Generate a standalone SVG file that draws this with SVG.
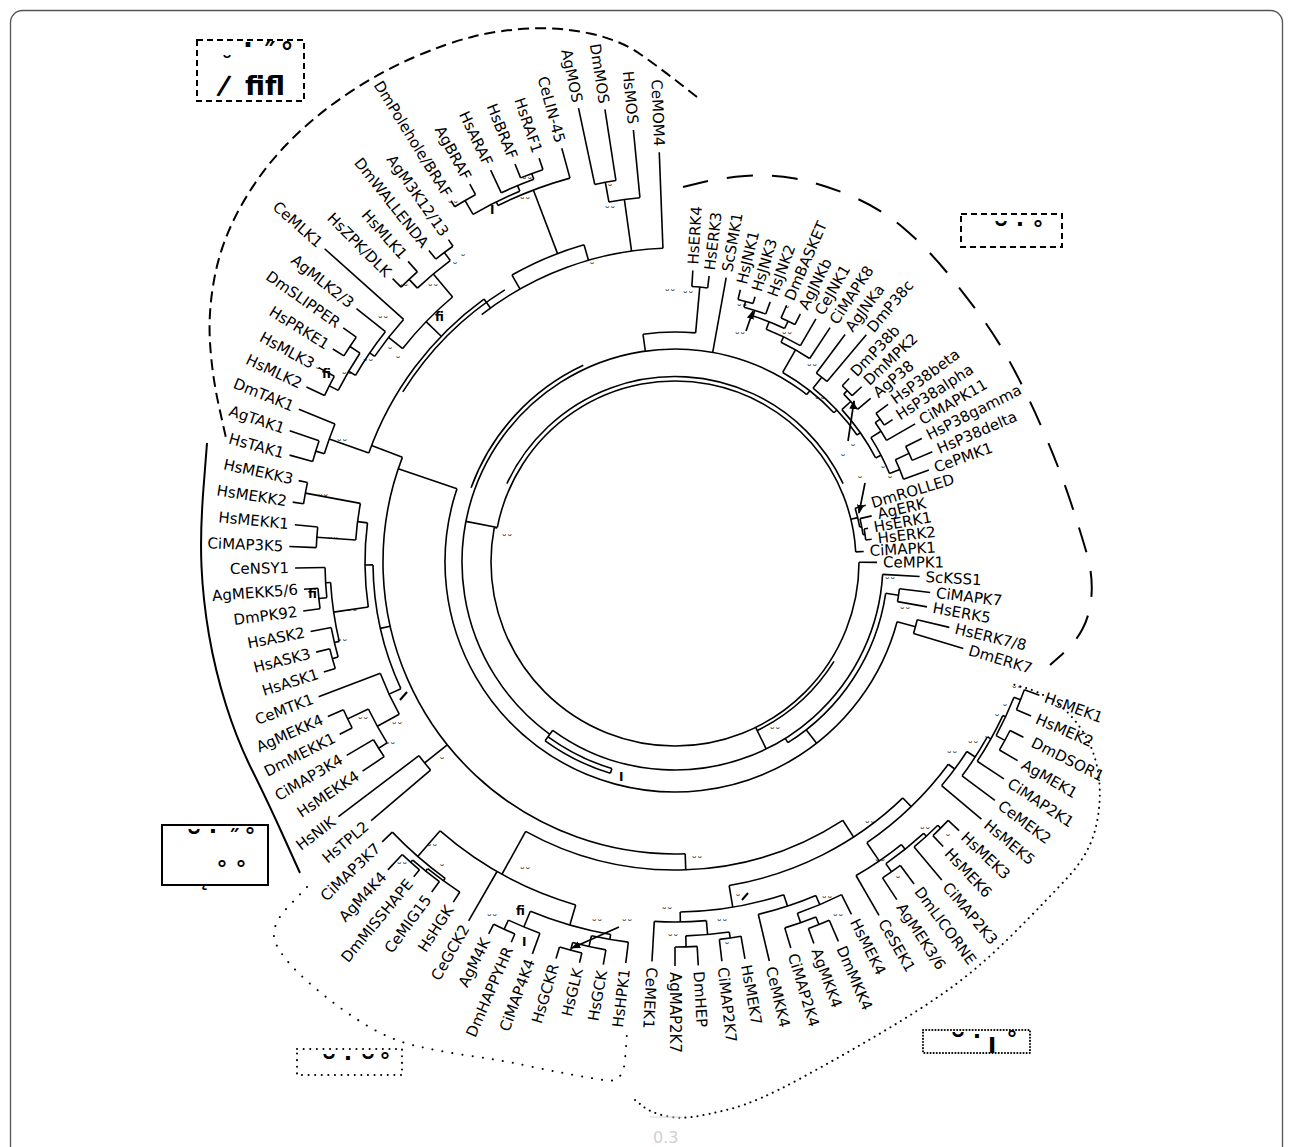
<svg xmlns="http://www.w3.org/2000/svg" width="1293" height="1147" viewBox="0 0 1293 1147">
<defs>
<marker id="ah" viewBox="0 0 10 10" refX="9" refY="5" markerUnits="userSpaceOnUse" markerWidth="9" markerHeight="9" orient="auto"><path d="M0,1L10,5L0,9z" fill="#000"/></marker>
</defs>
<style>
.c line,.c circle{fill:none;stroke:#000;stroke-width:1.6}
.t text{font-family:"DejaVu Sans",sans-serif;font-size:15px;dominant-baseline:central;fill:#000}
.t .e{text-anchor:end}
.g{fill:none;stroke:#000;stroke-width:2}
.bx{font-family:"DejaVu Sans",sans-serif;font-weight:bold;fill:#000}
.gl{font-family:"DejaVu Sans",sans-serif;font-weight:bold;font-size:22px;text-anchor:middle;fill:#000}
.gb{font-size:26px}
.br{font-size:34px}
.m{font-family:"DejaVu Sans",sans-serif;font-weight:bold;font-size:12px;fill:#000}
.bs text{font-family:"DejaVu Sans",sans-serif;font-size:11px;text-anchor:middle;fill:#000}
</style>
<rect x="10.5" y="10.5" width="1272" height="1160" rx="12" fill="#fff" stroke="#555" stroke-width="1.3"/>

<g id="outlines">
<path class="g" stroke-dasharray="11 6" d="M697,97 L678.5,82.5 Q660,68 640,54 Q620,40 590,33.5 Q560,27 530,28.5 Q500,30 473.5,36.5 Q447,43 413.5,57.5 Q380,72 346.5,94.5 Q313,117 286.5,144.5 Q260,172 241,206 Q222,240 215,275 Q208,310 210,342.5 Q212,375 219,406.5 L226,438"/>
<path class="g" d="M207,443 L203.5,488 Q200,533 201.5,566.5 Q203,600 209,635 Q215,670 226,705 Q237,740 252,770 Q267,800 283.5,836.5 L300,873"/>
<path class="g" stroke-dasharray="0.1 10" stroke-linecap="round" stroke-width="2.4" d="M307,887 L287.5,907.5 Q268,928 276.5,945 Q285,962 311,984.5 Q337,1007 363.5,1023.5 Q390,1040 416.5,1046 Q443,1052 471.5,1056 Q500,1060 523.5,1065 Q547,1070 568.5,1074 Q590,1078 606.5,1080.5 Q623,1083 625,1060 L627,1033"/>
<path class="g" stroke-dasharray="0.1 6" stroke-linecap="round" stroke-width="2" d="M635,1100 L642.5,1106 Q650,1112 663.5,1115.5 Q677,1119 692,1117 Q707,1115 732,1108.5 Q757,1102 798.5,1079.5 Q840,1057 880,1033.5 Q920,1010 950,988.5 Q980,967 1013.5,933.5 Q1047,900 1068.5,876.5 Q1090,853 1096,826.5 Q1102,800 1098.5,775 Q1095,750 1082.5,731 Q1070,712 1055,702 Q1040,692 1026,688 L1012,684"/>
<path class="g" stroke-dasharray="26 19" d="M683,187 L701.5,182.5 Q720,178 745,176 Q770,174 795,178.5 Q820,183 850,195.5 Q880,208 903.5,228 Q927,248 947,272.5 Q967,297 983.5,320 Q1000,343 1015,371.5 Q1030,400 1045,435 Q1060,470 1070,500 Q1080,530 1086.5,552.5 Q1093,575 1091.5,595 Q1090,615 1082.5,629 Q1075,643 1062.5,654 L1050,665"/>
</g>

<g id="legend-boxes">
<g id="box-map3k"><rect x="197" y="40" width="107" height="61" class="g" stroke-dasharray="6 4"/>
<text class="gl" x="227" y="72" font-size="44">˘</text><text class="gl gb" x="248" y="54">·</text><text class="gl gb" x="269" y="63">˝</text><text class="gl gb" x="287" y="61">°</text>
<text class="bx" x="219" y="95" font-size="27" transform="rotate(14 226 86)">/</text><text class="bx" x="245" y="95" font-size="27">ﬁﬂ</text></g>
<g id="box-mapk"><rect x="961" y="214" width="101" height="33" class="g" stroke-dasharray="6 4"/>
<text class="gl br" x="1001" y="248">˘</text><text class="gl" x="1020" y="231">·</text><text class="gl" x="1038" y="236">°</text></g>
<g id="box-left"><rect x="162" y="825" width="106" height="60" class="g"/>
<text class="gl br" x="194" y="856">˘</text><text class="gl" x="213" y="838">·</text><text class="gl" x="234" y="845">˝</text><text class="gl" x="250" y="843">°</text>
<text class="gl" x="222" y="876">°</text><text class="gl" x="241" y="876">°</text>
<text class="gl" x="204" y="886">˛</text></g>
<g id="box-map4k"><rect x="297" y="1049" width="105" height="26" class="g" stroke-dasharray="0.1 6.5" stroke-linecap="round" stroke-width="2.4"/>
<text class="gl br" x="329" y="1081">˘</text><text class="gl" x="348" y="1065">·</text><text class="gl br" x="368" y="1081">˘</text><text class="gl" x="385" y="1068">°</text></g>
<g id="box-map2k"><rect x="923" y="1030" width="107" height="23" class="g" stroke-dasharray="0.1 3" stroke-linecap="round" stroke-width="2"/>
<text class="gl br" x="958" y="1059">˘</text><text class="gl" x="977" y="1043">·</text><text class="gl" x="992" y="1053" font-size="18">I</text><text class="gl" x="1012" y="1046">°</text></g>
</g>

<g id="connectors" class="c" transform="translate(675 562)">
<!-- MAPK -->
<line x1="276" x2="292" transform="rotate(-86.5)"/>
<line x1="276" x2="288" transform="rotate(-83.2)"/>
<circle r="276" pathLength="360" stroke-dasharray="3.3 360" transform="rotate(-86.5)"/>
<line x1="230" x2="276" transform="rotate(-84.85)"/>
<circle r="230" pathLength="360" stroke-dasharray="13.15 360" transform="rotate(-98)"/>
<line x1="213" x2="230" transform="rotate(-98)"/>
<line x1="213" x2="289" transform="rotate(-79.8)"/>
<line x1="270" x2="280" transform="rotate(-76.5)"/>
<line x1="270" x2="277" transform="rotate(-73.2)"/>
<circle r="270" pathLength="360" stroke-dasharray="3.3 360" transform="rotate(-76.5)"/>
<line x1="264" x2="270" transform="rotate(-74.85)"/>
<line x1="264" x2="277" transform="rotate(-69.9)"/>
<circle r="264" pathLength="360" stroke-dasharray="4.95 360" transform="rotate(-74.85)"/>
<line x1="258" x2="264" transform="rotate(-72.4)"/>
<line x1="266" x2="280" transform="rotate(-66.5)"/>
<line x1="266" x2="278" transform="rotate(-63.2)"/>
<circle r="266" pathLength="360" stroke-dasharray="3.3 360" transform="rotate(-66.5)"/>
<line x1="258" x2="266" transform="rotate(-64.85)"/>
<circle r="258" pathLength="360" stroke-dasharray="7.55 360" transform="rotate(-72.4)"/>
<line x1="250" x2="258" transform="rotate(-68.6)"/>
<line x1="250" x2="281" transform="rotate(-59.9)"/>
<circle r="250" pathLength="360" stroke-dasharray="8.7 360" transform="rotate(-68.6)"/>
<line x1="244" x2="250" transform="rotate(-64.25)"/>
<line x1="244" x2="281" transform="rotate(-56.5)"/>
<circle r="244" pathLength="360" stroke-dasharray="7.75 360" transform="rotate(-64.25)"/>
<line x1="218" x2="244" transform="rotate(-60.4)"/>
<line x1="236" x2="284" transform="rotate(-53.2)"/>
<line x1="236" x2="297" transform="rotate(-49.9)"/>
<circle r="236" pathLength="360" stroke-dasharray="3.3 360" transform="rotate(-53.2)"/>
<line x1="222" x2="236" transform="rotate(-51.55)"/>
<line x1="243" x2="253" transform="rotate(-46.5)"/>
<line x1="243" x2="256" transform="rotate(-43.2)"/>
<circle r="243" pathLength="360" stroke-dasharray="3.3 360" transform="rotate(-46.5)"/>
<line x1="238" x2="243" transform="rotate(-44.85)"/>
<line x1="238" x2="255" transform="rotate(-39.9)"/>
<circle r="238" pathLength="360" stroke-dasharray="4.95 360" transform="rotate(-44.85)"/>
<line x1="226" x2="238" transform="rotate(-42.4)"/>
<line x1="250" x2="265" transform="rotate(-36.5)"/>
<line x1="250" x2="260" transform="rotate(-33.2)"/>
<circle r="250" pathLength="360" stroke-dasharray="3.3 360" transform="rotate(-36.5)"/>
<line x1="244" x2="250" transform="rotate(-34.85)"/>
<line x1="244" x2="277" transform="rotate(-29.9)"/>
<circle r="244" pathLength="360" stroke-dasharray="4.95 360" transform="rotate(-34.85)"/>
<line x1="232" x2="244" transform="rotate(-32.4)"/>
<line x1="258" x2="276" transform="rotate(-26.6)"/>
<line x1="258" x2="280" transform="rotate(-23.2)"/>
<circle r="258" pathLength="360" stroke-dasharray="3.4 360" transform="rotate(-26.6)"/>
<line x1="243" x2="258" transform="rotate(-24.9)"/>
<line x1="243" x2="270" transform="rotate(-19.9)"/>
<circle r="243" pathLength="360" stroke-dasharray="5 360" transform="rotate(-24.9)"/>
<line x1="232" x2="243" transform="rotate(-22.4)"/>
<circle r="232" pathLength="360" stroke-dasharray="10 360" transform="rotate(-32.4)"/>
<line x1="226" x2="232" transform="rotate(-27.4)"/>
<circle r="226" pathLength="360" stroke-dasharray="15 360" transform="rotate(-42.4)"/>
<line x1="222" x2="226" transform="rotate(-34.9)"/>
<circle r="222" pathLength="360" stroke-dasharray="16.65 360" transform="rotate(-51.55)"/>
<line x1="218" x2="222" transform="rotate(-43.2)"/>
<circle r="218" pathLength="360" stroke-dasharray="17.2 360" transform="rotate(-60.4)"/>
<line x1="213" x2="218" transform="rotate(-51.8)"/>
<circle r="213" pathLength="360" stroke-dasharray="182.2 360" transform="rotate(126)"/>
<circle r="217" pathLength="360" stroke-dasharray="45 360" transform="rotate(200)"/>
<line x1="181" x2="213" transform="rotate(191)"/>
<!-- ERK -->
<line x1="188" x2="199" transform="rotate(-16.6)"/>
<line x1="190" x2="202" transform="rotate(-13.2)"/>
<line x1="192" x2="196" transform="rotate(-9.9)"/>
<line x1="192" x2="198" transform="rotate(-6.6)"/>
<circle r="192" pathLength="360" stroke-dasharray="3.3 360" transform="rotate(-9.9)"/>
<line x1="190" x2="192" transform="rotate(-8.25)"/>
<circle r="190" pathLength="360" stroke-dasharray="4.95 360" transform="rotate(-13.2)"/>
<line x1="188" x2="190" transform="rotate(-10.7)"/>
<circle r="188" pathLength="360" stroke-dasharray="5.9 360" transform="rotate(-16.6)"/>
<line x1="181" x2="188" transform="rotate(-13.65)"/>
<line x1="181" x2="189" transform="rotate(-3.2)"/>
<circle r="181" pathLength="360" stroke-dasharray="165.8 360" transform="rotate(191)"/>
<circle r="185.5" pathLength="360" stroke-dasharray="130 360" transform="rotate(205)"/>
<line x1="184" x2="202" transform="rotate(0.1)"/>
<circle r="184" pathLength="360" stroke-dasharray="190.7 360" transform="rotate(0.1)"/>
<circle r="187.5" pathLength="360" stroke-dasharray="32 360" transform="rotate(32)"/>
<line x1="181" x2="184" transform="rotate(190.8)"/>
<line x1="208" x2="245" transform="rotate(3.4)"/>
<circle r="208" pathLength="360" stroke-dasharray="122.6 360" transform="rotate(3.4)"/>
<line x1="184" x2="208" transform="rotate(64)"/>
<line x1="226" x2="257" transform="rotate(6.8)"/>
<line x1="226" x2="256" transform="rotate(10.1)"/>
<circle r="226" pathLength="360" stroke-dasharray="3.3 360" transform="rotate(6.8)"/>
<line x1="213" x2="226" transform="rotate(8.45)"/>
<circle r="213" pathLength="360" stroke-dasharray="49.55 360" transform="rotate(8.45)"/>
<line x1="208" x2="213" transform="rotate(58)"/>
<line x1="249" x2="282" transform="rotate(13.4)"/>
<line x1="249" x2="301" transform="rotate(16.7)"/>
<circle r="249" pathLength="360" stroke-dasharray="3.3 360" transform="rotate(13.4)"/>
<line x1="230" x2="249" transform="rotate(15.05)"/>
<circle r="230" pathLength="360" stroke-dasharray="183.55 360" transform="rotate(15.05)"/>
<line x1="213" x2="230" transform="rotate(52)"/>
<circle r="216" pathLength="360" stroke-dasharray="19 360" transform="rotate(107)"/>
<circle r="221" pathLength="360" stroke-dasharray="19 360" transform="rotate(107)"/>
<line x1="216" x2="221" transform="rotate(107)"/>
<line x1="208" x2="221" transform="rotate(126)"/>
<!-- MAP2K -->
<line x1="372" x2="388" transform="rotate(20.1)"/>
<line x1="372" x2="388" transform="rotate(23.4)"/>
<circle r="372" pathLength="360" stroke-dasharray="3.3 360" transform="rotate(20.1)"/>
<line x1="365" x2="372" transform="rotate(21.75)"/>
<line x1="375" x2="390" transform="rotate(26.7)"/>
<line x1="375" x2="396" transform="rotate(30.1)"/>
<circle r="375" pathLength="360" stroke-dasharray="3.4 360" transform="rotate(26.7)"/>
<line x1="365" x2="375" transform="rotate(28.4)"/>
<circle r="365" pathLength="360" stroke-dasharray="6.65 360" transform="rotate(21.75)"/>
<line x1="362" x2="365" transform="rotate(25.1)"/>
<line x1="362" x2="394" transform="rotate(33.4)"/>
<circle r="362" pathLength="360" stroke-dasharray="8.3 360" transform="rotate(25.1)"/>
<line x1="358" x2="362" transform="rotate(29.25)"/>
<line x1="358" x2="399" transform="rotate(36.7)"/>
<circle r="358" pathLength="360" stroke-dasharray="7.45 360" transform="rotate(29.25)"/>
<line x1="348" x2="358" transform="rotate(33)"/>
<line x1="348" x2="400" transform="rotate(40)"/>
<circle r="348" pathLength="360" stroke-dasharray="7 360" transform="rotate(33)"/>
<line x1="340" x2="348" transform="rotate(36.5)"/>
<line x1="376" x2="391" transform="rotate(43.4)"/>
<line x1="376" x2="391" transform="rotate(46.7)"/>
<circle r="376" pathLength="360" stroke-dasharray="3.3 360" transform="rotate(43.4)"/>
<line x1="372" x2="376" transform="rotate(45.05)"/>
<line x1="372" x2="415" transform="rotate(50)"/>
<circle r="372" pathLength="360" stroke-dasharray="4.95 360" transform="rotate(45.05)"/>
<line x1="368" x2="372" transform="rotate(47.5)"/>
<line x1="378" x2="401" transform="rotate(53.4)"/>
<line x1="378" x2="404" transform="rotate(56.7)"/>
<circle r="378" pathLength="360" stroke-dasharray="3.3 360" transform="rotate(53.4)"/>
<line x1="368" x2="378" transform="rotate(55.05)"/>
<circle r="368" pathLength="360" stroke-dasharray="7.55 360" transform="rotate(47.5)"/>
<line x1="362" x2="368" transform="rotate(51.3)"/>
<line x1="362" x2="408" transform="rotate(60)"/>
<circle r="362" pathLength="360" stroke-dasharray="8.7 360" transform="rotate(51.3)"/>
<line x1="340" x2="362" transform="rotate(55.65)"/>
<circle r="340" pathLength="360" stroke-dasharray="19.15 360" transform="rotate(36.5)"/>
<line x1="328" x2="340" transform="rotate(46)"/>
<line x1="372" x2="394" transform="rotate(63.4)"/>
<line x1="390" x2="413" transform="rotate(66.7)"/>
<line x1="390" x2="406" transform="rotate(70)"/>
<circle r="390" pathLength="360" stroke-dasharray="3.3 360" transform="rotate(66.7)"/>
<line x1="382" x2="390" transform="rotate(68.35)"/>
<line x1="382" x2="403" transform="rotate(73.3)"/>
<circle r="382" pathLength="360" stroke-dasharray="4.95 360" transform="rotate(68.35)"/>
<line x1="372" x2="382" transform="rotate(70.8)"/>
<circle r="372" pathLength="360" stroke-dasharray="7.4 360" transform="rotate(63.4)"/>
<line x1="362" x2="372" transform="rotate(67.1)"/>
<line x1="362" x2="410" transform="rotate(76.7)"/>
<circle r="362" pathLength="360" stroke-dasharray="9.6 360" transform="rotate(67.1)"/>
<line x1="350" x2="362" transform="rotate(71.9)"/>
<line x1="380" x2="403" transform="rotate(80)"/>
<line x1="380" x2="402" transform="rotate(83.3)"/>
<circle r="380" pathLength="360" stroke-dasharray="3.3 360" transform="rotate(80)"/>
<line x1="374" x2="380" transform="rotate(81.65)"/>
<line x1="385" x2="404" transform="rotate(86.7)"/>
<line x1="385" x2="404" transform="rotate(90)"/>
<circle r="385" pathLength="360" stroke-dasharray="3.3 360" transform="rotate(86.7)"/>
<line x1="374" x2="385" transform="rotate(88.35)"/>
<circle r="374" pathLength="360" stroke-dasharray="6.7 360" transform="rotate(81.65)"/>
<line x1="360" x2="374" transform="rotate(85)"/>
<line x1="360" x2="400" transform="rotate(93.3)"/>
<circle r="360" pathLength="360" stroke-dasharray="8.3 360" transform="rotate(85)"/>
<line x1="350" x2="360" transform="rotate(89.15)"/>
<circle r="350" pathLength="360" stroke-dasharray="17.25 360" transform="rotate(71.9)"/>
<line x1="328" x2="350" transform="rotate(80.5)"/>
<circle r="328" pathLength="360" stroke-dasharray="34.5 360" transform="rotate(46)"/>
<line x1="308" x2="328" transform="rotate(57)"/>
<!-- MAP4K -->
<line x1="383" x2="404" transform="rotate(97)"/>
<line x1="394" x2="409" transform="rotate(100.1)"/>
<line x1="402" x2="412" transform="rotate(103.4)"/>
<line x1="402" x2="414" transform="rotate(106.7)"/>
<circle r="402" pathLength="360" stroke-dasharray="3.3 360" transform="rotate(103.4)"/>
<line x1="394" x2="402" transform="rotate(105.05)"/>
<circle r="394" pathLength="360" stroke-dasharray="4.95 360" transform="rotate(100.1)"/>
<line x1="383" x2="394" transform="rotate(102.6)"/>
<circle r="383" pathLength="360" stroke-dasharray="5.6 360" transform="rotate(97)"/>
<line x1="378" x2="383" transform="rotate(99.8)"/>
<line x1="395" x2="417" transform="rotate(110)"/>
<line x1="405" x2="414" transform="rotate(113.3)"/>
<line x1="405" x2="416" transform="rotate(116.6)"/>
<circle r="405" pathLength="360" stroke-dasharray="3.3 360" transform="rotate(113.3)"/>
<line x1="395" x2="405" transform="rotate(114.95)"/>
<circle r="395" pathLength="360" stroke-dasharray="4.95 360" transform="rotate(110)"/>
<line x1="378" x2="395" transform="rotate(112.5)"/>
<circle r="378" pathLength="360" stroke-dasharray="12.7 360" transform="rotate(99.8)"/>
<line x1="357" x2="378" transform="rotate(106.15)"/>
<line x1="357" x2="414" transform="rotate(119.9)"/>
<line x1="394" x2="406" transform="rotate(123.1)"/>
<line x1="397" x2="410" transform="rotate(126.4)"/>
<line x1="400" x2="409" transform="rotate(129.7)"/>
<line x1="400" x2="421" transform="rotate(133)"/>
<circle r="400" pathLength="360" stroke-dasharray="3.3 360" transform="rotate(129.7)"/>
<line x1="397" x2="400" transform="rotate(131.35)"/>
<circle r="397" pathLength="360" stroke-dasharray="4.95 360" transform="rotate(126.4)"/>
<line x1="394" x2="397" transform="rotate(128.9)"/>
<circle r="394" pathLength="360" stroke-dasharray="5.8 360" transform="rotate(123.1)"/>
<line x1="391" x2="394" transform="rotate(126)"/>
<line x1="391" x2="405" transform="rotate(136.3)"/>
<circle r="391" pathLength="360" stroke-dasharray="10.3 360" transform="rotate(126)"/>
<line x1="357" x2="391" transform="rotate(131.15)"/>
<circle r="357" pathLength="360" stroke-dasharray="25 360" transform="rotate(106.15)"/>
<line x1="308" x2="357" transform="rotate(119)"/>
<line x1="321" x2="399" transform="rotate(139.6)"/>
<line x1="321" x2="422" transform="rotate(142.9)"/>
<circle r="321" pathLength="360" stroke-dasharray="3.3 360" transform="rotate(139.6)"/>
<line x1="292" x2="321" transform="rotate(141.25)"/>
<!-- MAP3K lower -->
<line x1="350" x2="376" transform="rotate(146.2)"/>
<line x1="350" x2="381" transform="rotate(149.5)"/>
<circle r="350" pathLength="360" stroke-dasharray="3.3 360" transform="rotate(146.2)"/>
<line x1="340" x2="350" transform="rotate(147.85)"/>
<line x1="363" x2="377" transform="rotate(152.8)"/>
<line x1="363" x2="380" transform="rotate(156)"/>
<circle r="363" pathLength="360" stroke-dasharray="3.2 360" transform="rotate(152.8)"/>
<line x1="340" x2="363" transform="rotate(154.4)"/>
<circle r="340" pathLength="360" stroke-dasharray="6.55 360" transform="rotate(147.85)"/>
<line x1="315" x2="340" transform="rotate(151.1)"/>
<line x1="315" x2="381" transform="rotate(159.3)"/>
<circle r="315" pathLength="360" stroke-dasharray="8.2 360" transform="rotate(151.1)"/>
<line x1="302" x2="315" transform="rotate(155.2)"/>
<line x1="356" x2="368" transform="rotate(162.6)"/>
<line x1="356" x2="370" transform="rotate(165.9)"/>
<circle r="356" pathLength="360" stroke-dasharray="3.3 360" transform="rotate(162.6)"/>
<line x1="350" x2="356" transform="rotate(164.25)"/>
<line x1="350" x2="371" transform="rotate(169.2)"/>
<circle r="350" pathLength="360" stroke-dasharray="4.95 360" transform="rotate(164.25)"/>
<line x1="345" x2="350" transform="rotate(166.7)"/>
<line x1="358" x2="375" transform="rotate(172.5)"/>
<line x1="358" x2="372" transform="rotate(175.8)"/>
<circle r="358" pathLength="360" stroke-dasharray="3.3 360" transform="rotate(172.5)"/>
<line x1="350" x2="358" transform="rotate(174.15)"/>
<line x1="350" x2="380" transform="rotate(179.1)"/>
<circle r="350" pathLength="360" stroke-dasharray="4.95 360" transform="rotate(174.15)"/>
<line x1="345" x2="350" transform="rotate(176.6)"/>
<circle r="345" pathLength="360" stroke-dasharray="9.9 360" transform="rotate(166.7)"/>
<line x1="310" x2="345" transform="rotate(171.65)"/>
<line x1="359" x2="386" transform="rotate(182.3)"/>
<line x1="359" x2="382" transform="rotate(185.6)"/>
<circle r="359" pathLength="360" stroke-dasharray="3.3 360" transform="rotate(182.3)"/>
<line x1="320" x2="359" transform="rotate(183.95)"/>
<line x1="376" x2="387" transform="rotate(188.9)"/>
<line x1="376" x2="385" transform="rotate(192.2)"/>
<circle r="376" pathLength="360" stroke-dasharray="3.3 360" transform="rotate(188.9)"/>
<line x1="320" x2="376" transform="rotate(190.55)"/>
<circle r="320" pathLength="360" stroke-dasharray="6.6 360" transform="rotate(183.95)"/>
<line x1="310" x2="320" transform="rotate(187.25)"/>
<circle r="310" pathLength="360" stroke-dasharray="15.6 360" transform="rotate(171.65)"/>
<line x1="302" x2="310" transform="rotate(179.45)"/>
<circle r="302" pathLength="360" stroke-dasharray="24.25 360" transform="rotate(155.2)"/>
<line x1="292" x2="302" transform="rotate(167.3)"/>
<!-- TAK -->
<line x1="376" x2="400" transform="rotate(195.5)"/>
<line x1="376" x2="407" transform="rotate(198.8)"/>
<circle r="376" pathLength="360" stroke-dasharray="3.3 360" transform="rotate(195.5)"/>
<line x1="367" x2="376" transform="rotate(197.15)"/>
<line x1="367" x2="406" transform="rotate(202.1)"/>
<circle r="367" pathLength="360" stroke-dasharray="4.95 360" transform="rotate(197.15)"/>
<line x1="325" x2="367" transform="rotate(199.6)"/>
<!-- MLK -->
<line x1="388" x2="408" transform="rotate(205.4)"/>
<line x1="388" x2="406" transform="rotate(208.6)"/>
<circle r="388" pathLength="360" stroke-dasharray="3.2 360" transform="rotate(205.4)"/>
<line x1="378" x2="388" transform="rotate(207)"/>
<line x1="390" x2="403" transform="rotate(211.9)"/>
<line x1="390" x2="406" transform="rotate(215.2)"/>
<circle r="390" pathLength="360" stroke-dasharray="3.3 360" transform="rotate(211.9)"/>
<line x1="378" x2="390" transform="rotate(213.55)"/>
<circle r="378" pathLength="360" stroke-dasharray="6.55 360" transform="rotate(207)"/>
<line x1="370" x2="378" transform="rotate(210.3)"/>
<line x1="370" x2="407" transform="rotate(218.5)"/>
<circle r="370" pathLength="360" stroke-dasharray="8.2 360" transform="rotate(210.3)"/>
<line x1="364" x2="370" transform="rotate(214.4)"/>
<line x1="364" x2="470" transform="rotate(221.8)"/>
<circle r="364" pathLength="360" stroke-dasharray="7.4 360" transform="rotate(214.4)"/>
<line x1="346" x2="364" transform="rotate(218.1)"/>
<line x1="388" x2="400" transform="rotate(225.1)"/>
<line x1="388" x2="402" transform="rotate(228.4)"/>
<circle r="388" pathLength="360" stroke-dasharray="3.3 360" transform="rotate(225.1)"/>
<line x1="376" x2="388" transform="rotate(226.75)"/>
<line x1="386" x2="397" transform="rotate(231.7)"/>
<line x1="386" x2="394" transform="rotate(234.9)"/>
<circle r="386" pathLength="360" stroke-dasharray="3.2 360" transform="rotate(231.7)"/>
<line x1="376" x2="386" transform="rotate(233.3)"/>
<circle r="376" pathLength="360" stroke-dasharray="6.55 360" transform="rotate(226.75)"/>
<line x1="346" x2="376" transform="rotate(230)"/>
<circle r="346" pathLength="360" stroke-dasharray="11.9 360" transform="rotate(218.1)"/>
<line x1="325" x2="346" transform="rotate(224)"/>
<!-- RAF -->
<line x1="418" x2="425" transform="rotate(238.2)"/>
<line x1="418" x2="430" transform="rotate(241.5)"/>
<circle r="418" pathLength="360" stroke-dasharray="3.3 360" transform="rotate(238.2)"/>
<line x1="402" x2="418" transform="rotate(239.85)"/>
<line x1="408" x2="433" transform="rotate(244.8)"/>
<line x1="414" x2="429" transform="rotate(248.1)"/>
<line x1="414" x2="426" transform="rotate(251.4)"/>
<circle r="414" pathLength="360" stroke-dasharray="3.3 360" transform="rotate(248.1)"/>
<line x1="408" x2="414" transform="rotate(249.75)"/>
<circle r="408" pathLength="360" stroke-dasharray="4.95 360" transform="rotate(244.8)"/>
<line x1="402" x2="408" transform="rotate(247.3)"/>
<circle r="402" pathLength="360" stroke-dasharray="7.45 360" transform="rotate(239.85)"/>
<line x1="398" x2="402" transform="rotate(243.6)"/>
<line x1="398" x2="429" transform="rotate(254.7)"/>
<circle r="398" pathLength="360" stroke-dasharray="11.1 360" transform="rotate(243.6)"/>
<line x1="330" x2="398" transform="rotate(249.15)"/>
<circle r="330" pathLength="360" stroke-dasharray="13.6 360" transform="rotate(240.4)"/>
<line x1="314" x2="330" transform="rotate(240.4)"/>
<line x1="314" x2="330" transform="rotate(254)"/>
<!-- MOS -->
<line x1="386" x2="464" transform="rotate(258)"/>
<line x1="386" x2="458" transform="rotate(261.2)"/>
<circle r="386" pathLength="360" stroke-dasharray="3.2 360" transform="rotate(258)"/>
<line x1="366" x2="386" transform="rotate(259.6)"/>
<line x1="366" x2="434" transform="rotate(264.5)"/>
<circle r="366" pathLength="360" stroke-dasharray="4.9 360" transform="rotate(259.6)"/>
<line x1="314" x2="366" transform="rotate(262.05)"/>
<line x1="314" x2="410" transform="rotate(267.8)"/>
<circle r="314" pathLength="360" stroke-dasharray="35.8 360" transform="rotate(232)"/>
<line x1="314" x2="325" transform="rotate(234)"/>
<circle r="325" pathLength="360" stroke-dasharray="34.4 360" transform="rotate(199.6)"/>
<circle r="321" pathLength="360" stroke-dasharray="26 360" transform="rotate(212)"/>
<!-- deep -->
<circle r="308" pathLength="360" stroke-dasharray="62 360" transform="rotate(57)"/>
<line x1="292" x2="308" transform="rotate(88)"/>
<circle r="292" pathLength="360" stroke-dasharray="113 360" transform="rotate(88)"/>
<line x1="292" x2="325" transform="rotate(201)"/>
<line x1="230" x2="292" transform="rotate(198.6)"/>
</g>

<g id="arrows" fill="none" stroke="#000" stroke-width="1.7">
<line x1="746" y1="331" x2="753" y2="311" marker-end="url(#ah)"/>
<line x1="848" y1="441" x2="854" y2="401" marker-end="url(#ah)"/>
<line x1="865" y1="483" x2="859" y2="513" marker-end="url(#ah)"/>
<line x1="619" y1="927" x2="572" y2="948" marker-end="url(#ah)"/>
<line x1="400" y1="700" x2="407" y2="692" stroke-width="2"/>
<line x1="742" y1="900" x2="748" y2="893" stroke-width="2"/>
</g>
<g id="marks">
<text class="m" x="435" y="321">fi</text>
<text class="m" x="322" y="378">fi</text>
<text class="m" x="308" y="598">fi</text>
<text class="m" x="516" y="915">fi</text>
<text class="m" x="490" y="214" font-size="9">I</text>
<text class="m" x="522" y="946" font-size="9">I</text>
<text class="m" x="619" y="781" font-size="9">I</text>
</g>
<g id="bootstrap" class="bs">
<text x="453" y="210">˘˘</text><text x="525" y="206">˘˘</text><text x="527" y="186">˘˘</text><text x="610" y="215">˘˘</text><text x="610" y="193">˘</text>
<text x="463" y="263">˘</text><text x="455" y="271">˘</text><text x="403" y="293">˘˘</text><text x="433" y="293">˘˘</text><text x="592" y="271">˘</text><text x="670" y="298">˘˘</text>
<text x="383" y="325">˘˘</text><text x="368" y="368">˘˘</text><text x="390" y="356">˘</text><text x="398" y="365">˘</text><text x="347" y="381">˘˘</text><text x="318" y="376">˘</text>
<text x="342" y="448">˘˘</text><text x="323" y="503">˘˘</text><text x="333" y="546">˘˘</text><text x="352" y="618">˘˘</text><text x="342" y="648">˘˘</text>
<text x="363" y="726">˘˘</text><text x="397" y="731">˘˘</text><text x="390" y="751">˘˘</text><text x="442" y="766">˘</text><text x="432" y="853">˘˘</text><text x="442" y="873">˘</text><text x="402" y="871">˘˘</text><text x="492" y="923">˘˘</text>
<text x="525" y="876">˘˘</text><text x="697" y="865">˘˘</text><text x="870" y="830">˘˘</text><text x="597" y="928">˘˘</text><text x="627" y="928">˘˘</text><text x="667" y="916">˘˘</text><text x="722" y="928">˘˘</text><text x="673" y="943">˘˘</text><text x="727" y="951">˘</text><text x="827" y="905">˘˘</text><text x="838" y="923">˘˘</text><text x="738" y="903">˘</text>
<text x="1017" y="695">˘˘</text><text x="1005" y="713">˘</text><text x="997" y="723">˘</text><text x="987" y="745">˘</text><text x="973" y="750">˘˘</text><text x="952" y="760">˘˘</text><text x="925" y="836">˘˘</text><text x="948" y="843">˘</text><text x="880" y="868">˘˘</text><text x="898" y="885">˘</text>
<text x="890" y="586">˘˘</text><text x="905" y="616">˘˘</text>
<text x="688" y="300">˘˘</text><text x="742" y="313">˘˘</text><text x="740" y="341">˘˘</text><text x="787" y="341">˘˘</text><text x="787" y="315">˘</text><text x="812" y="373">˘˘</text><text x="820" y="406">˘˘</text><text x="853" y="453">˘</text><text x="843" y="463">˘</text><text x="883" y="475">˘</text><text x="860" y="485">˘</text><text x="890" y="485">˘</text>
<text x="507" y="543">˘˘</text><text x="775" y="736">˘˘</text>
</g>

<g id="leaves" class="t" transform="translate(675 562)">
<text id="HsERK4" transform="rotate(-86.5)translate(298)">HsERK4</text>
<text id="HsERK3" transform="rotate(-83.2)translate(294)">HsERK3</text>
<text id="ScSMK1" transform="rotate(-79.8)translate(295)">ScSMK1</text>
<text id="HsJNK1" transform="rotate(-76.5)translate(286)">HsJNK1</text>
<text id="HsJNK3" transform="rotate(-73.2)translate(283)">HsJNK3</text>
<text id="HsJNK2" transform="rotate(-69.9)translate(283)">HsJNK2</text>
<text id="DmBASKET" transform="rotate(-66.5)translate(286)">DmBASKET</text>
<text id="AgJNKb" transform="rotate(-63.2)translate(284)">AgJNKb</text>
<text id="CeJNK1" transform="rotate(-59.9)translate(287)">CeJNK1</text>
<text id="CiMAPK8" transform="rotate(-56.5)translate(287)">CiMAPK8</text>
<text id="AgJNKa" transform="rotate(-53.2)translate(290)">AgJNKa</text>
<text id="DmP38c" transform="rotate(-49.9)translate(303)">DmP38c</text>
<text id="DmP38b" transform="rotate(-46.5)translate(259)">DmP38b</text>
<text id="DmMPK2" transform="rotate(-43.2)translate(262)">DmMPK2</text>
<text id="AgP38" transform="rotate(-39.9)translate(261)">AgP38</text>
<text id="HsP38beta" transform="rotate(-36.5)translate(271)">HsP38beta</text>
<text id="HsP38alpha" transform="rotate(-33.2)translate(266)">HsP38alpha</text>
<text id="CiMAPK11" transform="rotate(-29.9)translate(283)">CiMAPK11</text>
<text id="HsP38gamma" transform="rotate(-26.6)translate(282)">HsP38gamma</text>
<text id="HsP38delta" transform="rotate(-23.2)translate(286)">HsP38delta</text>
<text id="CePMK1" transform="rotate(-19.9)translate(276)">CePMK1</text>
<text id="DmROLLED" transform="rotate(-16.6)translate(205)">DmROLLED</text>
<text id="AgERK" transform="rotate(-13.2)translate(208)">AgERK</text>
<text id="HsERK1" transform="rotate(-9.9)translate(202)">HsERK1</text>
<text id="HsERK2" transform="rotate(-6.6)translate(204)">HsERK2</text>
<text id="CiMAPK1" transform="rotate(-3.2)translate(195)">CiMAPK1</text>
<text id="CeMPK1" transform="rotate(0.1)translate(208)">CeMPK1</text>
<text id="ScKSS1" transform="rotate(3.4)translate(251)">ScKSS1</text>
<text id="CiMAPK7" transform="rotate(6.8)translate(263)">CiMAPK7</text>
<text id="HsERK5" transform="rotate(10.1)translate(262)">HsERK5</text>
<text id="HsERK7-8" transform="rotate(13.4)translate(288)">HsERK7/8</text>
<text id="DmERK7" transform="rotate(16.7)translate(307)">DmERK7</text>
<text id="HsMEK1" transform="rotate(20.1)translate(394)">HsMEK1</text>
<text id="HsMEK2" transform="rotate(23.4)translate(394)">HsMEK2</text>
<text id="DmDSOR1" transform="rotate(26.7)translate(400)">DmDSOR1</text>
<text id="AgMEK1" transform="rotate(30.1)translate(402)">AgMEK1</text>
<text id="CiMAP2K1" transform="rotate(33.4)translate(400)">CiMAP2K1</text>
<text id="CeMEK2" transform="rotate(36.7)translate(405)">CeMEK2</text>
<text id="HsMEK5" transform="rotate(40)translate(406)">HsMEK5</text>
<text id="HsMEK3" transform="rotate(43.4)translate(397)">HsMEK3</text>
<text id="HsMEK6" transform="rotate(46.7)translate(397)">HsMEK6</text>
<text id="CiMAP2K3" transform="rotate(50)translate(421)">CiMAP2K3</text>
<text id="DmLICORNE" transform="rotate(53.4)translate(407)">DmLICORNE</text>
<text id="AgMEK3-6" transform="rotate(56.7)translate(410)">AgMEK3/6</text>
<text id="CeSEK1" transform="rotate(60)translate(414)">CeSEK1</text>
<text id="HsMEK4" transform="rotate(63.4)translate(400)">HsMEK4</text>
<text id="DmMKK4" transform="rotate(66.7)translate(419)">DmMKK4</text>
<text id="AgMKK4" transform="rotate(70)translate(412)">AgMKK4</text>
<text id="CiMAP2K4" transform="rotate(73.3)translate(409)">CiMAP2K4</text>
<text id="CeMKK4" transform="rotate(76.7)translate(416)">CeMKK4</text>
<text id="HsMEK7" transform="rotate(80)translate(409)">HsMEK7</text>
<text id="CiMAP2K7" transform="rotate(83.3)translate(408)">CiMAP2K7</text>
<text id="DmHEP" transform="rotate(86.7)translate(410)">DmHEP</text>
<text id="AgMAP2K7" transform="rotate(90)translate(410)">AgMAP2K7</text>
<text id="CeMEK1" transform="rotate(93.3)translate(406)">CeMEK1</text>
<text id="HsHPK1" class="e" transform="rotate(277)translate(-410)">HsHPK1</text>
<text id="HsGCK" class="e" transform="rotate(280.1)translate(-415)">HsGCK</text>
<text id="HsGLK" class="e" transform="rotate(283.4)translate(-418)">HsGLK</text>
<text id="HsGCKR" class="e" transform="rotate(286.7)translate(-420)">HsGCKR</text>
<text id="CiMAP4K4" class="e" transform="rotate(290)translate(-423)">CiMAP4K4</text>
<text id="DmHAPPYHR" class="e" transform="rotate(293.3)translate(-420)">DmHAPPYHR</text>
<text id="AgM4K" class="e" transform="rotate(296.6)translate(-422)">AgM4K</text>
<text id="CeGCK2" class="e" transform="rotate(299.9)translate(-420)">CeGCK2</text>
<text id="HsHGK" class="e" transform="rotate(303.1)translate(-412)">HsHGK</text>
<text id="CeMIG15" class="e" transform="rotate(306.4)translate(-416)">CeMIG15</text>
<text id="DmMISSHAPE" class="e" transform="rotate(309.7)translate(-415)">DmMISSHAPE</text>
<text id="AgM4K4" class="e" transform="rotate(313)translate(-427)">AgM4K4</text>
<text id="CiMAP3K7" class="e" transform="rotate(316.3)translate(-411)">CiMAP3K7</text>
<text id="HsTPL2" class="e" transform="rotate(319.6)translate(-405)">HsTPL2</text>
<text id="HsNIK" class="e" transform="rotate(322.9)translate(-428)">HsNIK</text>
<text id="HsMEKK4" class="e" transform="rotate(326.2)translate(-382)">HsMEKK4</text>
<text id="CiMAP3K4" class="e" transform="rotate(329.5)translate(-387)">CiMAP3K4</text>
<text id="DmMEKK1" class="e" transform="rotate(332.8)translate(-383)">DmMEKK1</text>
<text id="AgMEKK4" class="e" transform="rotate(336)translate(-386)">AgMEKK4</text>
<text id="CeMTK1" class="e" transform="rotate(339.3)translate(-387)">CeMTK1</text>
<text id="HsASK1" class="e" transform="rotate(342.6)translate(-374)">HsASK1</text>
<text id="HsASK3" class="e" transform="rotate(345.9)translate(-376)">HsASK3</text>
<text id="HsASK2" class="e" transform="rotate(349.2)translate(-377)">HsASK2</text>
<text id="DmPK92" class="e" transform="rotate(352.5)translate(-381)">DmPK92</text>
<text id="AgMEKK5-6" class="e" transform="rotate(355.8)translate(-378)">AgMEKK5/6</text>
<text id="CeNSY1" class="e" transform="rotate(359.1)translate(-386)">CeNSY1</text>
<text id="CiMAP3K5" class="e" transform="rotate(2.3)translate(-392)">CiMAP3K5</text>
<text id="HsMEKK1" class="e" transform="rotate(5.6)translate(-388)">HsMEKK1</text>
<text id="HsMEKK2" class="e" transform="rotate(8.9)translate(-393)">HsMEKK2</text>
<text id="HsMEKK3" class="e" transform="rotate(12.2)translate(-391)">HsMEKK3</text>
<text id="HsTAK1" class="e" transform="rotate(15.5)translate(-406)">HsTAK1</text>
<text id="AgTAK1" class="e" transform="rotate(18.8)translate(-413)">AgTAK1</text>
<text id="DmTAK1" class="e" transform="rotate(22.1)translate(-412)">DmTAK1</text>
<text id="HsMLK2" class="e" transform="rotate(25.4)translate(-414)">HsMLK2</text>
<text id="HsMLK3" class="e" transform="rotate(28.6)translate(-412)">HsMLK3</text>
<text id="HsPRKE1" class="e" transform="rotate(31.9)translate(-409)">HsPRKE1</text>
<text id="DmSLIPPER" class="e" transform="rotate(35.2)translate(-412)">DmSLIPPER</text>
<text id="AgMLK2-3" class="e" transform="rotate(38.5)translate(-413)">AgMLK2/3</text>
<text id="CeMLK1" class="e" transform="rotate(41.8)translate(-476)">CeMLK1</text>
<text id="HsZPK-DLK" class="e" transform="rotate(45.1)translate(-406)">HsZPK/DLK</text>
<text id="HsMLK1" class="e" transform="rotate(48.4)translate(-408)">HsMLK1</text>
<text id="DmWALLENDA" class="e" transform="rotate(51.7)translate(-403)">DmWALLENDA</text>
<text id="AgM3K12-13" class="e" transform="rotate(54.9)translate(-400)">AgM3K12/13</text>
<text id="DmPolehole-BRAF" class="e" transform="rotate(58.2)translate(-431)">DmPolehole/BRAF</text>
<text id="AgBRAF" class="e" transform="rotate(61.5)translate(-436)">AgBRAF</text>
<text id="HsARAF" class="e" transform="rotate(64.8)translate(-439)">HsARAF</text>
<text id="HsBRAF" class="e" transform="rotate(68.1)translate(-435)">HsBRAF</text>
<text id="HsRAF1" class="e" transform="rotate(71.4)translate(-432)">HsRAF1</text>
<text id="CeLIN-45" class="e" transform="rotate(74.7)translate(-435)">CeLIN-45</text>
<text id="AgMOS" class="e" transform="rotate(78)translate(-470)">AgMOS</text>
<text id="DmMOS" class="e" transform="rotate(81.2)translate(-464)">DmMOS</text>
<text id="HsMOS" class="e" transform="rotate(84.5)translate(-440)">HsMOS</text>
<text id="CeMOM4" class="e" transform="rotate(87.8)translate(-416)">CeMOM4</text>
</g>

<g id="scale">
<line x1="650" y1="1117" x2="682" y2="1117" stroke="#d4d4d4" stroke-width="1"/>
<text x="653" y="1143" font-family="DejaVu Sans, sans-serif" font-size="16" fill="#d0d0d0">0.3</text>
</g>
</svg>
